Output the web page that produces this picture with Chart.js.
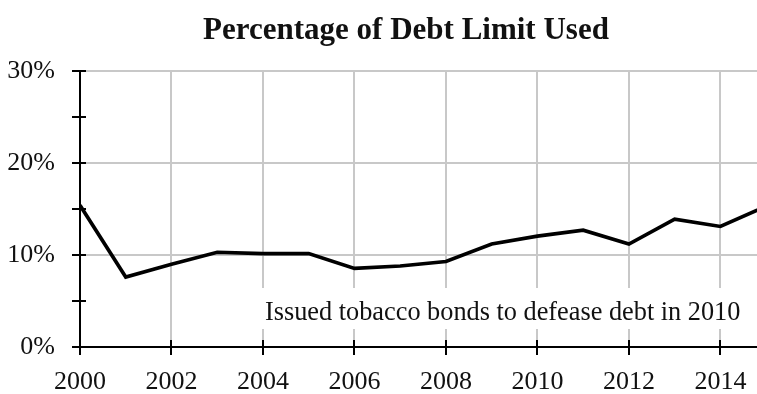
<!DOCTYPE html>
<html>
<head>
<meta charset="utf-8">
<script src="https://cdn.jsdelivr.net/npm/chart.js@4/dist/chart.umd.min.js"></script>
<style>
  html, body { margin: 0; padding: 0; background: #ffffff; }
  #wrap { width: 757px; height: 394px; }
</style>
</head>
<body>
<div id="wrap"><canvas id="chart" width="757" height="394"></canvas></div>
<script>
// Share of the statutory debt limit in use, by year
const years = [2000, 2001, 2002, 2003, 2004, 2005, 2006, 2007, 2008, 2009, 2010, 2011, 2012, 2013, 2014, 2015];
const pctUsed = [15.4, 7.6, 9.0, 10.3, 10.15, 10.15, 8.55, 8.8, 9.3, 11.2, 12.05, 12.7, 11.2, 13.9, 13.1, 15.3];
const xTickYears = [2000, 2002, 2004, 2006, 2008, 2010, 2012, 2014];
const yTickValues = [0, 5, 10, 15, 20, 25, 30];
const yLabelValues = [0, 10, 20, 30];

const chartTitle = 'Percentage of Debt Limit Used';
const noteText = 'Issued tobacco bonds to defease debt in 2010';

const SERIF = '"Liberation Serif", "DejaVu Serif", serif';
const GRID = '#c8c8c8';

// Title, note and the small cross-axis tick marks
const decorations = {
  id: 'decorations',
  beforeDatasetsDraw(chart) {
    const { ctx, chartArea } = chart;
    const xs = chart.scales.x, ys = chart.scales.y;
    ctx.save();
    // note box hides the grid behind the text
    ctx.fillStyle = '#ffffff';
    ctx.fillRect(258, 288, chartArea.right - 258, 41);
    ctx.fillStyle = '#111111';
    ctx.font = '26.3px ' + SERIF;
    ctx.textAlign = 'left';
    ctx.textBaseline = 'alphabetic';
    ctx.fillText(noteText, 265, 320);

    // tick marks crossing the axes
    ctx.strokeStyle = '#000000';
    ctx.lineWidth = 2;
    ctx.beginPath();
    xTickYears.forEach(v => {
      const px = Math.round(xs.getPixelForValue(v));
      ctx.moveTo(px, chartArea.bottom - 7);
      ctx.lineTo(px, chartArea.bottom + 8);
    });
    yTickValues.forEach(v => {
      const py = Math.round(ys.getPixelForValue(v));
      ctx.moveTo(chartArea.left - 8, py);
      ctx.lineTo(chartArea.left + 6, py);
    });
    ctx.stroke();
    ctx.restore();
  },
  afterDraw(chart) {
    const { ctx } = chart;
    ctx.save();
    ctx.fillStyle = '#111111';
    ctx.font = 'bold 31px ' + SERIF;
    ctx.textAlign = 'center';
    ctx.textBaseline = 'alphabetic';
    ctx.fillText(chartTitle, 406, 39);
    ctx.restore();
  }
};

new Chart(document.getElementById('chart'), {
  type: 'line',
  data: {
    datasets: [{
      data: years.map((y, i) => ({ x: y, y: pctUsed[i] })),
      borderColor: '#000000',
      borderWidth: 3.6,
      pointRadius: 0,
      tension: 0,
      borderJoinStyle: 'miter',
      fill: false
    }]
  },
  options: {
    responsive: false,
    animation: false,
    layout: { padding: { top: 71, right: 0, bottom: 0, left: 0 } },
    plugins: {
      legend: { display: false },
      title: { display: false },
      tooltip: { enabled: false }
    },
    scales: {
      x: {
        type: 'linear',
        min: 2000,
        max: 2014.8,
        afterBuildTicks: s => { s.ticks = xTickYears.map(v => ({ value: v })); },
        afterFit: s => { s.height = 47; s.paddingLeft = 0; s.paddingRight = 0; },
        ticks: {
          color: '#111111',
          font: { family: SERIF, size: 26 },
          padding: 20,
          maxRotation: 0,
          callback: v => String(v)
        },
        grid: {
          drawTicks: false,
          color: c => (c.tick && c.tick.value === 2000 ? 'rgba(0,0,0,0)' : GRID),
          lineWidth: 2
        },
        border: { color: '#000000', width: 2 }
      },
      y: {
        min: 0,
        max: 30,
        afterBuildTicks: s => { s.ticks = yTickValues.map(v => ({ value: v })); },
        afterFit: s => { s.width = 80; s.paddingTop = 0; s.paddingBottom = 0; },
        ticks: {
          color: '#111111',
          font: { family: SERIF, size: 26 },
          padding: 25,
          callback: v => (yLabelValues.includes(v) ? v + '%' : '')
        },
        grid: {
          drawTicks: false,
          color: c => (c.tick && c.tick.value % 10 === 0 && c.tick.value > 0 ? GRID : 'rgba(0,0,0,0)'),
          lineWidth: 2
        },
        border: { color: '#000000', width: 2 }
      }
    }
  },
  plugins: [decorations]
});
</script>
</body>
</html>
